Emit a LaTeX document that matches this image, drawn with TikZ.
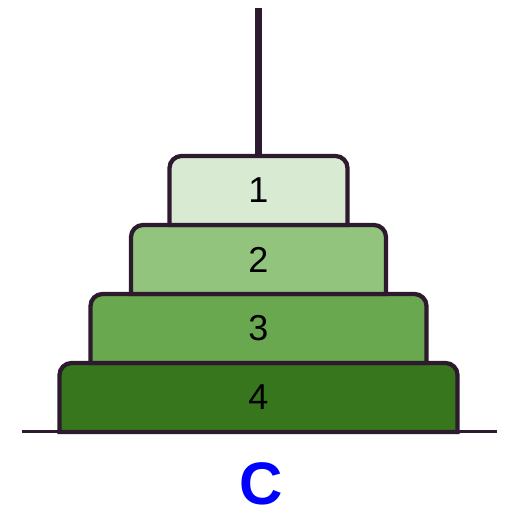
\documentclass[tikz,border=0pt]{standalone}
\usepackage{fontspec}
\setmainfont{Liberation Sans}
\definecolor{rod}{HTML}{2E1A2E}
\definecolor{diska}{HTML}{D9EAD3}
\definecolor{diskb}{HTML}{93C47D}
\definecolor{diskc}{HTML}{6AA84F}
\definecolor{diskd}{HTML}{38761D}
\tikzset{
  disk/.style = {draw = rod, line width = 4.3pt},
  disklabel/.style = {font = \fontsize{36}{36}\selectfont}
}
\begin{document}
\begin{tikzpicture}[x=1pt,y=-1pt]
\useasboundingbox (0,0) rectangle (505,511);
\draw [rod, line width = 7pt] (258.5,8) -- (258.5,158);
\draw [rod, line width = 3pt] (22,431.5) -- (497,431.5);
\foreach \n/\w/\t/\c in {4/199/363/diskd, 3/168/294/diskc, 2/127.5/225/diskb, 1/89/156/diska}{
\draw [disk, fill = \c] (258.5-\w,\t+69) [rounded corners = 12pt] -- (258.5-\w,\t) -- (258.5+\w,\t) [sharp corners] -- (258.5+\w,\t+69) -- cycle;
\node [disklabel] (d\n) at (258.5,\t+34.5) {\n};
}
\node [blue, inner sep = 0pt, font = \bfseries\fontsize{60}{60}\selectfont] (peg) at (261,484) {C};
\end{tikzpicture}
\end{document}
